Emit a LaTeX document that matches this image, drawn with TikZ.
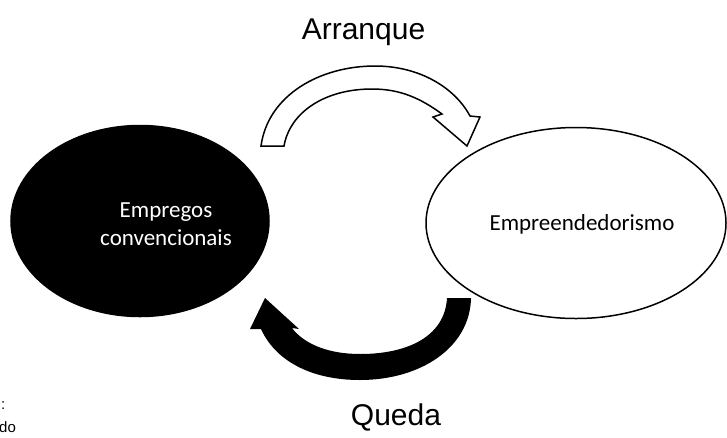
\documentclass[tikz,border=0pt]{standalone}
\usepackage{fontspec}
\setmainfont{Liberation Sans}
\newfontfamily\carlito{Carlito}
\usetikzlibrary{shapes.geometric}
\begin{document}
\begin{tikzpicture}[x=1pt,y=-1pt,
  bubble/.style={ellipse, draw=black, line width=1.5pt, inner sep=0pt},
  lbl/.style={font=\carlito\fontsize{23}{28}\selectfont, align=center},
  ttl/.style={font=\fontsize{30}{36}\selectfont},
  frag/.style={font=\fontsize{15}{17}\selectfont, anchor=base west, inner sep=0pt},
  blk/.style={line width=1.5pt, line join=miter}]
\useasboundingbox (0,0) rectangle (727,437);
\node[bubble, fill=black, minimum width=258pt, minimum height=191pt] (emp) at (140,221) {};
\node[bubble, fill=white, minimum width=300pt, minimum height=191pt] (ent) at (576,223) {};
\node[lbl, text=white] (empt) at (166,224) {Empregos\\convencionais};
\node[lbl] (entt) at (582,224) {Empreendedorismo};
% Arranque arrow (white block arrow)
\draw[blk, fill=white] (261,146) .. controls (268,95) and (320,66) .. (375,66)
  .. controls (420,66) and (455,88) .. (470,116) -- (480,117) -- (467,146) -- (433,117) -- (442,114)
  .. controls (420,98) and (400,89) .. (372,89)
  .. controls (325,89) and (290,112) .. (284,146) -- cycle;
% Queda arrow (black block arrow)
\fill[black] (471,298) .. controls (470,348) and (420,380) .. (360,380)
  .. controls (310,380) and (275,360) .. (261,329) -- (250,329) -- (265,298) -- (299,329) -- (292,328)
  .. controls (305,345) and (330,354) .. (360,354)
  .. controls (410,354) and (445,335) .. (447,298) -- cycle;
\node[ttl, anchor=base] (arr) at (363.5,39) {Arranque};
\node[ttl, anchor=base] (qd) at (396,425) {Queda};
\node[frag] (f1) at (1,409) {:};
\node[frag] (f2) at (-1,432) {do};
\end{tikzpicture}
\end{document}
